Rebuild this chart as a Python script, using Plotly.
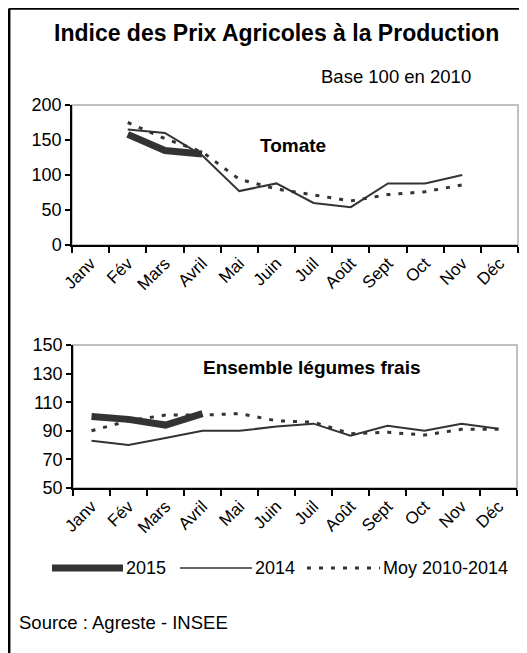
import plotly.graph_objects as go
from plotly.subplots import make_subplots

months = ["Janv", "Fév", "Mars", "Avril", "Mai", "Juin", "Juil", "Août", "Sept", "Oct", "Nov", "Déc"]

tomate_2015 = [None, 158, 135, 130, None, None, None, None, None, None, None, None]
tomate_2014 = [None, 165, 160, 128, 77, 88, 60, 54, 88, 88, 100, None]
tomate_moy = [None, 175, 152, 133, 94, 80, 72, 63, 72, 76, 86, None]

legumes_2015 = [100, 98, 94, 102, None, None, None, None, None, None, None, None]
legumes_2014 = [83, 80, 85, 90, 90, 93, 95, 86.5, 93.5, 90, 95, 91.5]
legumes_moy = [90, 97, 101, 101, 102, 97, 96, 88, 89, 87, 91, 91]

tomate_ticks = [0, 50, 100, 150, 200]
legumes_ticks = [50, 70, 90, 110, 130, 150]

FONT = "Liberation Sans, Arial, sans-serif"
LC = "#333333"
W, H = 527, 653
OFF = 8  # page body margin


def px(x):
    return (x - OFF) / W


def py(y):
    return 1 - (y - OFF) / H


fig = make_subplots(rows=2, cols=1)

DOT = dict(color=LC, width=3, dash="4px,8px")
series = [
    ("2015", tomate_2015, legumes_2015, dict(color=LC, width=7)),
    ("2014", tomate_2014, legumes_2014, dict(color=LC, width=2)),
    ("Moy 2010-2014", tomate_moy, legumes_moy, DOT),
]
for name, t, l, line in series:
    fig.add_trace(go.Scatter(x=months, y=t, mode="lines", name=name, line=line,
                             showlegend=False), row=1, col=1)
for name, t, l, line in series:
    fig.add_trace(go.Scatter(x=months, y=l, mode="lines", name=name, line=line,
                             showlegend=False), row=2, col=1)

xcommon = dict(type="category", categoryorder="array", categoryarray=months,
               range=[-0.5, 11.5], tickson="boundaries", ticks="outside", ticklen=6,
               tickcolor="black", tickwidth=1.5, showline=True, linecolor="black",
               linewidth=1.5, showgrid=False, zeroline=False, tickangle=-45,
               automargin=False,
               tickfont=dict(family=FONT, size=17, color="black"))
ycommon = dict(ticks="outside", ticklen=5, tickcolor="black", tickwidth=1.5,
               showline=True, linecolor="black", linewidth=1.5, showgrid=False,
               zeroline=False, automargin=False,
               tickfont=dict(family=FONT, size=18, color="black"))

fig.update_xaxes(**xcommon)
fig.update_yaxes(**ycommon)

fig.update_layout(
    xaxis=dict(domain=[px(72), px(518)]),
    yaxis=dict(domain=[py(245), py(105)], range=[0, 200], tickvals=tomate_ticks),
    xaxis2=dict(domain=[px(73), px(517)]),
    yaxis2=dict(domain=[py(488), py(345)], range=[50, 150], tickvals=legumes_ticks),
)

# gray plot frames
for xr, yr in [("x domain", "y domain"), ("x2 domain", "y2 domain")]:
    fig.add_shape(type="rect", xref=xr, yref=yr, x0=0, x1=1, y0=0, y1=1,
                  line=dict(color="#c0c0c0", width=2), layer="below")

# outer border (top and left)
bx, by = 1.2 / W, 1 - 0.5 / H
fig.add_shape(type="line", xref="paper", yref="paper", x0=bx, x1=bx, y0=0, y1=by,
              line=dict(color="black", width=2.5))
fig.add_shape(type="line", xref="paper", yref="paper", x0=bx, x1=1, y0=by, y1=by,
              line=dict(color="black", width=2.5))

# custom legend (line samples + labels)
legend_y = py(568)
legend_items = [
    ("2015", 52, 123, dict(color=LC, width=7)),
    ("2014", 180, 252, dict(color=LC, width=1.5)),
    ("Moy 2010-2014", 307, 380, DOT),
]
for label, x0, x1, line in legend_items:
    fig.add_shape(type="line", xref="paper", yref="paper", x0=px(x0), x1=px(x1),
                  y0=legend_y, y1=legend_y, line=line)
    fig.add_annotation(xref="paper", yref="paper", x=px(x1 + 1), y=legend_y, text=label,
                       showarrow=False, xanchor="left", yanchor="middle",
                       font=dict(family=FONT, size=18, color="black"))

ann = [
    dict(text="<b>Indice des Prix Agricoles à la Production</b>", x=px(276), y=py(33),
         font=dict(family=FONT, size=23, color="black"), xanchor="center"),
    dict(text="Base 100 en 2010", x=px(396), y=py(77),
         font=dict(family=FONT, size=18.5, color="black"), xanchor="center"),
    dict(text="<b>Tomate</b>", x=px(293), y=py(145),
         font=dict(family=FONT, size=19, color="black"), xanchor="center"),
    dict(text="<b>Ensemble légumes frais</b>", x=px(312), y=py(367),
         font=dict(family=FONT, size=19, color="black"), xanchor="center"),
    dict(text="Source : Agreste - INSEE", x=px(17), y=py(622),
         font=dict(family=FONT, size=18.5, color="black"), xanchor="left"),
]
for a in ann:
    fig.add_annotation(xref="paper", yref="paper", showarrow=False, yanchor="middle", **a)

fig.update_layout(
    width=W, height=H,
    margin=dict(l=0, r=0, t=0, b=0),
    paper_bgcolor="white", plot_bgcolor="white",
    showlegend=False,
)

fig.write_html("out.html")
